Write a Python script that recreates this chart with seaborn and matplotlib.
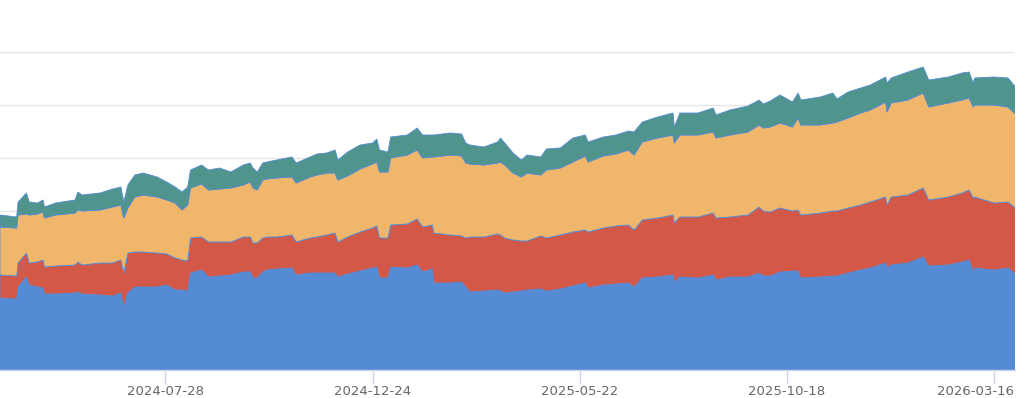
import numpy as np
import pandas as pd
import matplotlib
matplotlib.use("Agg")
import matplotlib.pyplot as plt
import matplotlib.transforms as mtransforms
import seaborn as sns

START = "2024-03-31"
END = "2026-03-31"

day = [0, 12, 13, 19, 21, 27, 31, 32, 40, 54, 56, 59, 72, 81, 87, 89, 92, 97,
       103, 113, 120, 126, 131, 135, 137, 145, 150, 158, 166, 175, 180, 182,
       185, 189, 192, 199, 210, 213, 223, 228, 235, 241, 243, 250, 259, 268,
       271, 273, 279, 281, 293, 300, 304, 311, 312, 324, 332, 335, 338, 348,
       358, 360, 363, 369, 375, 379, 389, 393, 403, 412, 421, 423, 434, 443,
       452, 456, 462, 473, 484, 485, 489, 502, 513, 515, 525, 538, 546, 549,
       554, 561, 570, 574, 576, 590, 599, 602, 610, 619, 626, 637, 638, 641,
       653, 664, 668, 682, 692, 697, 700, 701, 715, 725, 731]

blue = [72, 71, 83, 93, 85, 83, 82, 76, 76, 77, 78, 76, 75, 74, 77, 63, 77, 83,
        83, 83, 85, 80, 80, 79, 97, 100, 93, 94, 95, 98, 98, 92,
        92, 98, 100, 101, 102, 95, 97, 97, 97, 97, 93, 96, 99, 102,
        103, 92, 92, 103, 102, 105, 98, 101, 87, 87, 88, 83, 78, 79,
        80, 79, 77, 78, 79, 80, 81, 79, 81, 84, 87, 82, 85, 86,
        87, 83, 92, 93, 95, 88, 93, 92, 95, 90, 93, 93, 97, 94,
        94, 98, 99, 99, 92, 93, 94, 94, 97, 100, 102, 107, 102, 105,
        107, 113, 104, 105, 108, 110, 98, 102, 100, 102, 95]

red = [23, 23, 24, 24, 22, 25, 28, 27, 28, 28, 30, 29, 32, 33, 33, 34, 40, 35,
       35, 34, 31, 32, 30, 30, 35, 33, 35, 34, 33, 35, 35, 35,
       35, 34, 33, 32, 33, 33, 35, 36, 38, 40, 35, 37, 39, 40,
       41, 40, 40, 42, 44, 46, 45, 44, 50, 48, 46, 49, 55, 54,
       56, 56, 55, 52, 50, 49, 53, 53, 54, 54, 53, 56, 57, 58,
       58, 57, 58, 59, 60, 59, 60, 61, 62, 62, 60, 62, 66, 65,
       64, 64, 60, 61, 63, 64, 65, 65, 65, 65, 66, 66, 63, 68,
       68, 69, 66, 68, 69, 70, 74, 71, 67, 66, 66]

orange = [48, 48, 48, 39, 48, 48, 48, 49, 51, 52, 52, 54, 53, 56, 55, 55, 45, 55,
          57, 56, 54, 55, 50, 56, 50, 53, 52, 53, 54, 52, 55, 55,
          53, 58, 58, 59, 58, 59, 61, 62, 62, 60, 62, 61, 63, 64,
          64, 66, 66, 67, 69, 69, 69, 68, 76, 80, 80, 75, 73, 72,
          71, 73, 73, 67, 64, 68, 61, 68, 67, 70, 74, 70, 72, 72,
          75, 75, 78, 80, 80, 80, 82, 82, 81, 80, 82, 83, 82, 83,
          85, 85, 84, 92, 90, 88, 88, 89, 90, 92, 92, 95, 93, 94,
          95, 95, 93, 94, 93, 92, 91, 92, 98, 95, 94]

teal = [12, 11, 13, 21, 13, 11, 12, 11, 12, 13, 18, 16, 17, 18, 18, 16, 23, 22,
        22, 20, 18, 16, 18, 18, 18, 19, 20, 21, 16, 20, 19, 20,
        18, 17, 17, 18, 20, 20, 20, 21, 20, 23, 20, 24, 24, 21,
        23, 22, 20, 21, 20, 22, 23, 22, 22, 22, 22, 20, 19, 18,
        21, 24, 22, 20, 17, 18, 18, 21, 20, 24, 21, 20, 19, 19,
        19, 23, 20, 21, 22, 16, 22, 22, 24, 23, 25, 26, 25, 24,
        26, 28, 25, 25, 25, 28, 30, 23, 26, 25, 25, 25, 29, 25,
        28, 26, 27, 26, 27, 26, 24, 27, 28, 29, 27]

tick_labels = ["2024-07-28", "2024-12-24", "2025-05-22", "2025-10-18", "2026-03-16"]

COLORS = ["#558bd4", "#d35848", "#f0b76c", "#50948e"]
GRID_STEP = 53

dates = pd.to_datetime(START) + pd.to_timedelta(day, unit="D")
df = pd.DataFrame({"blue": blue, "red": red, "orange": orange, "teal": teal},
                  index=dates)

sns.set_theme(style="white")
plt.rcParams["font.family"] = ["DejaVu Sans"]

fig = plt.figure(figsize=(10.24, 3.98), dpi=100)
ax = fig.add_axes([0, 28 / 398, 1015 / 1024, (370 - 51) / 398])

ax.stackplot(df.index, df["blue"], df["red"], df["orange"], df["teal"],
             colors=COLORS, linewidth=0.6, edgecolors=COLORS, zorder=2)

ax.set_xlim(pd.Timestamp(START), pd.Timestamp(END))
ax.set_ylim(0, GRID_STEP * 6 + 1)
ax.set_yticks(np.arange(GRID_STEP, GRID_STEP * 6 + 1, GRID_STEP))
ax.set_yticklabels([])
ax.tick_params(axis="y", length=0)
ax.grid(axis="y", color="#e6e6e6", linewidth=1, zorder=0)
ax.set_axisbelow(True)

ax.set_xticks(pd.to_datetime(tick_labels))
ax.set_xticklabels(tick_labels, color="#666666", fontsize=9.5)
ax.tick_params(axis="x", direction="out", length=9, width=1, color="#ccd6eb",
               pad=2, bottom=True)

# last label is pushed left so it stays inside the plot, like the original
last = ax.get_xticklabels()[-1]
last.set_horizontalalignment("right")
last.set_transform(last.get_transform() +
                   mtransforms.ScaledTranslation(20 / 100, 0, fig.dpi_scale_trans))

sns.despine(ax=ax, left=True, top=True, right=True)
ax.spines["bottom"].set_color("#ccd6eb")
ax.spines["bottom"].set_linewidth(1)
ax.spines["bottom"].set_zorder(3)

fig.savefig("out.png", dpi=100)
